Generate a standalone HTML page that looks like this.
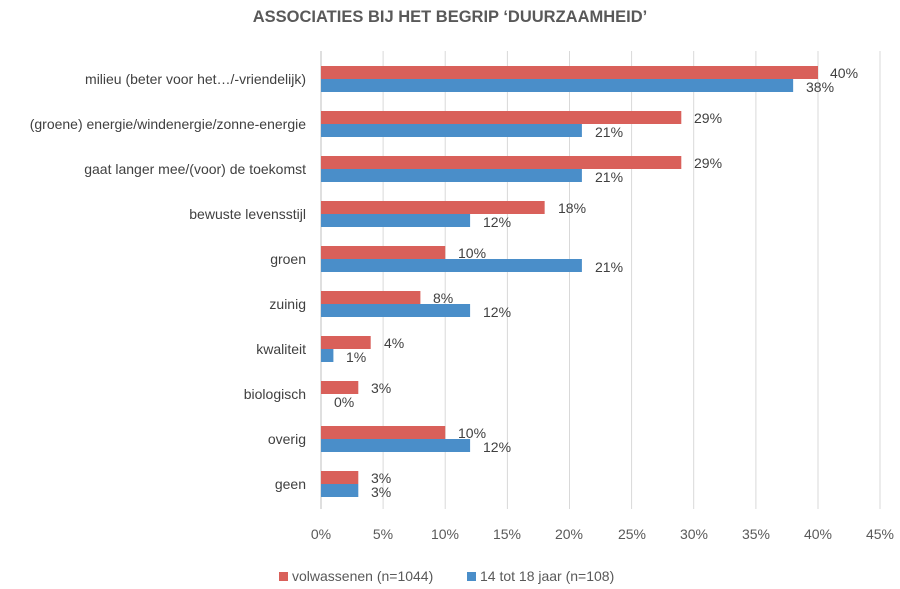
<!DOCTYPE html>
<html><head><meta charset="utf-8"><style>
body{margin:0;background:#fff;}
svg{display:block;font-family:"Liberation Sans",sans-serif;}
</style></head><body>
<svg width="900" height="589" viewBox="0 0 900 589" xmlns="http://www.w3.org/2000/svg">
<text x="450" y="22" text-anchor="middle" font-size="16.5" font-weight="bold" fill="#595959">ASSOCIATIES BIJ HET BEGRIP ‘DUURZAAMHEID’</text>
<g stroke="#d9d9d9" stroke-width="1">
<line x1="383.1" y1="51" x2="383.1" y2="509"/><line x1="445.2" y1="51" x2="445.2" y2="509"/>
<line x1="507.4" y1="51" x2="507.4" y2="509"/><line x1="569.5" y1="51" x2="569.5" y2="509"/>
<line x1="631.6" y1="51" x2="631.6" y2="509"/><line x1="693.7" y1="51" x2="693.7" y2="509"/>
<line x1="755.9" y1="51" x2="755.9" y2="509"/><line x1="818" y1="51" x2="818" y2="509"/>
<line x1="880" y1="51" x2="880" y2="509"/>
</g>
<line x1="321" y1="51" x2="321" y2="509" stroke="#bfbfbf"/>
<g font-size="14" fill="#404040" text-anchor="end">
<text x="306" y="84">milieu (beter voor het…/-vriendelijk)</text>
<text x="306" y="129">(groene) energie/windenergie/zonne-energie</text>
<text x="306" y="174">gaat langer mee/(voor) de toekomst</text>
<text x="306" y="219">bewuste levensstijl</text>
<text x="306" y="264">groen</text>
<text x="306" y="309">zuinig</text>
<text x="306" y="354">kwaliteit</text>
<text x="306" y="399">biologisch</text>
<text x="306" y="444">overig</text>
<text x="306" y="489">geen</text>
</g>
<g fill="#D9605A">
<rect x="321" y="66" width="497" height="13"/>
<rect x="321" y="111" width="360.3" height="13"/>
<rect x="321" y="156" width="360.3" height="13"/>
<rect x="321" y="201" width="223.65" height="13"/>
<rect x="321" y="246" width="124.25" height="13"/>
<rect x="321" y="291" width="99.4" height="13"/>
<rect x="321" y="336" width="49.7" height="13"/>
<rect x="321" y="381" width="37.3" height="13"/>
<rect x="321" y="426" width="124.25" height="13"/>
<rect x="321" y="471" width="37.3" height="13"/>
</g>
<g fill="#4A8EC9">
<rect x="321" y="79" width="472.15" height="13"/>
<rect x="321" y="124" width="260.9" height="13"/>
<rect x="321" y="169" width="260.9" height="13"/>
<rect x="321" y="214" width="149.1" height="13"/>
<rect x="321" y="259" width="260.9" height="13"/>
<rect x="321" y="304" width="149.1" height="13"/>
<rect x="321" y="349" width="12.4" height="13"/>
<rect x="321" y="439" width="149.1" height="13"/>
<rect x="321" y="484" width="37.3" height="13"/>
</g>
<g font-size="14" fill="#404040">
<text x="830" y="78">40%</text><text x="806" y="92">38%</text>
<text x="694" y="123">29%</text><text x="595" y="137">21%</text>
<text x="694" y="168">29%</text><text x="595" y="182">21%</text>
<text x="558" y="213">18%</text><text x="483" y="227">12%</text>
<text x="458" y="258">10%</text><text x="595" y="272">21%</text>
<text x="433" y="303">8%</text><text x="483" y="317">12%</text>
<text x="384" y="348">4%</text><text x="346" y="362">1%</text>
<text x="371" y="393">3%</text><text x="334" y="407">0%</text>
<text x="458" y="438">10%</text><text x="483" y="452">12%</text>
<text x="371" y="483">3%</text><text x="371" y="497">3%</text>
</g>
<g font-size="14" fill="#595959" text-anchor="middle">
<text x="321" y="539">0%</text><text x="383" y="539">5%</text><text x="445" y="539">10%</text><text x="507" y="539">15%</text><text x="569" y="539">20%</text><text x="632" y="539">25%</text><text x="694" y="539">30%</text><text x="756" y="539">35%</text><text x="818" y="539">40%</text><text x="880" y="539">45%</text>
</g>
<rect x="279" y="572" width="9" height="9" fill="#D9605A"/>
<text x="292" y="581" font-size="14" fill="#595959">volwassenen (n=1044)</text>
<rect x="467" y="572" width="9" height="9" fill="#4A8EC9"/>
<text x="480" y="581" font-size="14" fill="#595959">14 tot 18 jaar (n=108)</text>
</svg>
</body></html>
